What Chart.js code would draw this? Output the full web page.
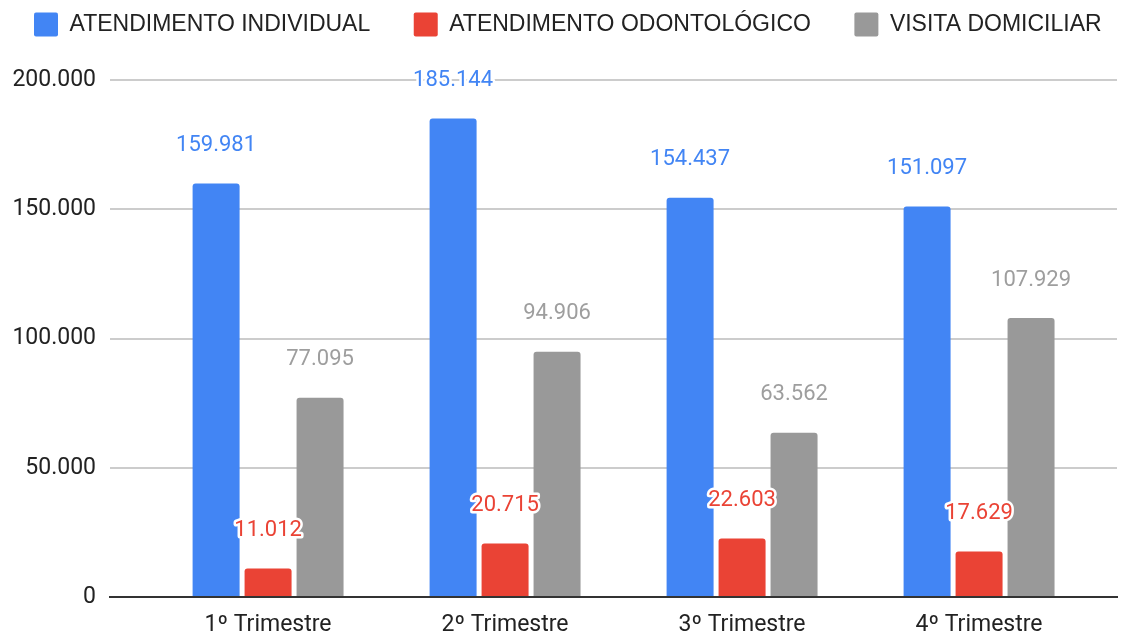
<!DOCTYPE html>
<html>
<head>
<meta charset="utf-8">
<script src="https://cdn.jsdelivr.net/npm/chart.js@4/dist/chart.umd.min.js"></script>
<style>
  html, body { margin: 0; padding: 0; background: #fff; }
  #wrap { width: 1130px; height: 636px; }
</style>
</head>
<body>
<div id="wrap"><canvas id="chart"></canvas></div>
<script>
// trimestres e valores
const trimestres = ['1º Trimestre', '2º Trimestre', '3º Trimestre', '4º Trimestre'];
const atendIndividual = [159981, 185144, 154437, 151097];
const atendOdonto = [11012, 20715, 22603, 17629];
const visitaDomiciliar = [77095, 94906, 63562, 107929];
const yTicks = [0, 50000, 100000, 150000, 200000];

const AZUL = '#4285f4';
const VERMELHO = '#ea4335';
const CINZA = '#999999';

function fmt(v) {
    return String(Math.round(v)).replace(/\B(?=(\d{3})+(?!\d))/g, '.');
}

// cada trimestre vira um ponto x = indice
const pontos = serie => serie.map((v, i) => ({ x: i, y: v }));

// rotulos de valor acima das barras, com contorno branco
const valueLabels = {
    id: 'valueLabels',
    afterDatasetsDraw(chart) {
        const ctx = chart.ctx;
        ctx.save();
        ctx.font = '22px Roboto';
        ctx.textAlign = 'center';
        ctx.textBaseline = 'middle';
        ctx.lineJoin = 'round';
        chart.data.datasets.forEach((ds, i) => {
            const meta = chart.getDatasetMeta(i);
            meta.data.forEach((bar, j) => {
                const txt = fmt(ds.data[j].y);
                const y = bar.y - 38;
                ctx.strokeStyle = '#fff';
                ctx.lineWidth = 5;
                ctx.strokeText(txt, bar.x, y);
                ctx.fillStyle = ds.labelColor;
                ctx.fillText(txt, bar.x, y);
            });
        });
        ctx.restore();
    }
};

// legenda numa linha so, com espaco extra embaixo
const legendFix = {
    id: 'legendFix',
    beforeInit(chart) {
        const legend = chart.legend;
        const fit = legend.fit;
        legend.fit = function () {
            const mw = this.maxWidth;
            this.maxWidth = mw + 100;
            fit.call(this);
            this.maxWidth = mw;
            this.width = Math.min(this.width, mw);
            this.height += 33.5;
        };
    },
    afterLayout(chart) {
        chart.legend.right += 100;
    }
};

const barStyle = {
    borderRadius: { topLeft: 3, topRight: 3 },
    borderSkipped: 'start',
    categoryPercentage: 0.658,
    barPercentage: 0.904
};

new Chart(document.getElementById('chart'), {
    type: 'bar',
    data: {
        datasets: [
            { label: 'ATENDIMENTO INDIVIDUAL', data: pontos(atendIndividual), backgroundColor: AZUL, labelColor: AZUL, ...barStyle },
            { label: 'ATENDIMENTO ODONTOLÓGICO', data: pontos(atendOdonto), backgroundColor: VERMELHO, labelColor: VERMELHO, ...barStyle },
            { label: 'VISITA DOMICILIAR', data: pontos(visitaDomiciliar), backgroundColor: CINZA, labelColor: '#9e9e9e', ...barStyle }
        ]
    },
    options: {
        responsive: true,
        maintainAspectRatio: false,
        animation: false,
        layout: { padding: { left: -9.5, right: 13, top: -31, bottom: 0 } },
        plugins: {
            legend: {
                position: 'top',
                align: 'start',
                labels: {
                    boxWidth: 24,
                    boxHeight: 24,
                    useBorderRadius: true,
                    borderRadius: 2,
                    padding: 43.5,
                    color: '#222',
                    font: { family: 'Liberation Sans', size: 23 }
                }
            },
            tooltip: { enabled: false }
        },
        scales: {
            y: {
                min: 0,
                max: 200000,
                afterFit: s => { s.width = 119.5; },
                afterBuildTicks: s => { s.ticks = yTicks.map(v => ({ value: v })); },
                ticks: {
                    color: '#222',
                    padding: 14,
                    font: { family: 'Roboto', size: 23 },
                    callback: v => fmt(v)
                },
                grid: { color: '#cccccc', lineWidth: 2, drawTicks: false },
                border: { display: false }
            },
            x: {
                type: 'linear',
                offset: false,
                min: -0.667,
                max: 3.582,
                afterFit: s => { s.height = 39; },
                afterBuildTicks: s => { s.ticks = trimestres.map((t, i) => ({ value: i })); },
                ticks: {
                    color: '#222',
                    padding: 14,
                    font: { family: 'Roboto', size: 23 },
                    callback: v => trimestres[v]
                },
                grid: { display: false, drawTicks: false },
                border: { display: true, color: '#333', width: 2 }
            }
        }
    },
    plugins: [valueLabels, legendFix]
});
</script>
</body>
</html>
